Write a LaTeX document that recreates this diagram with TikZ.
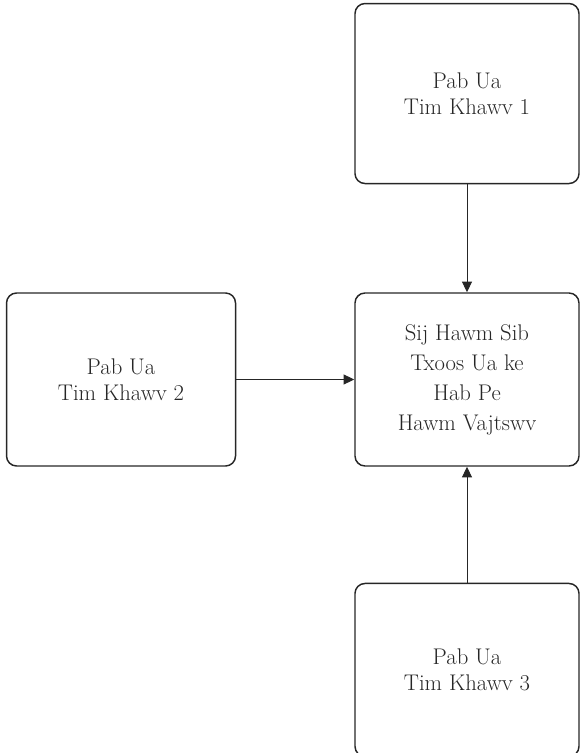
\documentclass[tikz,border=0pt]{standalone}
\usetikzlibrary{positioning,arrows.meta}

\begin{document}
\begin{tikzpicture}[
    box/.style = {draw=black!85, line width=1.1pt, rounded corners=7.5pt, align=center,
      inner sep=0pt, minimum width=168pt, minimum height=129.75pt,
      text=black!85, font=\fontsize{17}{19.5}\selectfont},
    flow/.style = {-{Triangle[length=8pt,width=7.5pt]}, draw=black!85, line width=0.7pt}
  ]

  \useasboundingbox (-350.25pt,-280.125pt) rectangle (84.75pt,284.625pt);

  \node[box] (hub) at (0,0) {Sij Hawm Sib\\[3pt]Txoos Ua ke\\[3pt]Hab Pe\\[3pt]Hawm Vajtswv};

  \node[box, minimum height=135pt, above = 81pt of hub] (witness1) {Pab Ua\\Tim Khawv 1};
  \node[box, minimum width=171.75pt, left = 88.5pt of hub] (witness2) {Pab Ua\\Tim Khawv 2};
  \node[box, below = 87pt of hub] (witness3) {Pab Ua\\Tim Khawv 3};

  \draw[flow] (witness1) -- (hub);
  \draw[flow] (witness2) -- (hub);
  \draw[flow] (witness3) -- (hub);

\end{tikzpicture}
\end{document}
